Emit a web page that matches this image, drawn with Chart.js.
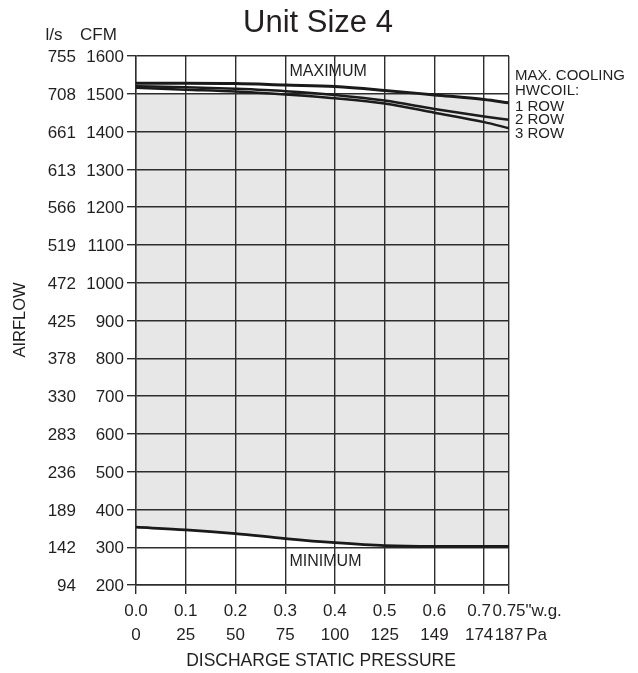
<!DOCTYPE html>
<html>
<head>
<meta charset="utf-8">
<script src="https://cdn.jsdelivr.net/npm/chart.js@4"></script>
<style>
  html, body { margin: 0; padding: 0; background: #ffffff; }
  #wrap { width: 638px; height: 673px; position: relative; }
</style>
</head>
<body>
<div id="wrap"><canvas id="c" width="638" height="673"></canvas></div>
<script>
// ---- data ----
const PRESSURE_IN = [0, 0.1, 0.2, 0.3, 0.4, 0.5, 0.6, 0.7, 0.75];
const MAX_COOLING_1ROW = [1528, 1528, 1527, 1523, 1519, 1509, 1497, 1485, 1476];
const HW_2ROW = [1520, 1517, 1513, 1507, 1497, 1482, 1460, 1440, 1431];
const HW_3ROW = [1516, 1511, 1506, 1498, 1488, 1474, 1450, 1425, 1409];
const MINIMUM = [353, 346, 336, 323, 312, 304, 302, 302, 302];
const SHADE_TOP = [1500, 1500, 1500, 1500, 1500, 1500, 1497, 1485, 1476];

const X_TICKS_IN = [0, 0.1, 0.2, 0.3, 0.4, 0.5, 0.6, 0.7, 0.75];
const X_LABELS_IN = ['0.0', '0.1', '0.2', '0.3', '0.4', '0.5', '0.6', '0.7', '0.75'];
const X_LABELS_PA = ['0', '25', '50', '75', '100', '125', '149', '174', '187'];
const Y_TICKS_CFM = [1600, 1500, 1400, 1300, 1200, 1100, 1000, 900, 800, 700, 600, 500, 400, 300, 200];
const Y_LABELS_LS = ['755', '708', '661', '613', '566', '519', '472', '425', '378', '330', '283', '236', '189', '142', '94'];
const RIGHT_LABELS = ['MAX. COOLING', 'HWCOIL:', '1 ROW', '2 ROW', '3 ROW'];

const FONT = "'Liberation Sans', Arial, Helvetica, sans-serif";
const INK = '#231f20';
const GRID = '#2e2e2e';

const pts = (ys) => PRESSURE_IN.map((x, i) => ({ x: x, y: ys[i] }));

const textPlugin = {
  id: 'texts',
  afterDraw(chart) {
    const ctx = chart.ctx;
    const xs = chart.scales.x, ys = chart.scales.y;
    ctx.save();
    ctx.fillStyle = INK;
    // title
    ctx.font = '31px ' + FONT;
    ctx.textAlign = 'center';
    ctx.textBaseline = 'alphabetic';
    ctx.fillText('Unit Size 4', 318, 31.5);
    // column headers
    ctx.font = '17px ' + FONT;
    ctx.textAlign = 'left';
    ctx.fillText('l/s', 45.5, 40);
    ctx.fillText('CFM', 80, 40);
    // y labels (two columns)
    ctx.textAlign = 'right';
    ctx.textBaseline = 'middle';
    Y_TICKS_CFM.forEach((v, i) => {
      const y = ys.getPixelForValue(v) + 1.5;
      ctx.fillText(Y_LABELS_LS[i], 76, y);
      ctx.fillText(String(v), 124, y);
    });
    // x labels (two rows)
    ctx.textAlign = 'center';
    ctx.textBaseline = 'alphabetic';
    X_TICKS_IN.forEach((v, i) => {
      let x = xs.getPixelForValue(v);
      if (i === 7) x -= 5;
      ctx.fillText(X_LABELS_IN[i], x, 616);
      ctx.fillText(X_LABELS_PA[i], x, 639.5);
    });
    const xe = xs.getPixelForValue(X_TICKS_IN[X_TICKS_IN.length - 1]);
    ctx.textAlign = 'left';
    ctx.fillText('"w.g.', xe + ctx.measureText(X_LABELS_IN[8]).width / 2, 616);
    ctx.fillText('Pa', xe + ctx.measureText(X_LABELS_PA[8]).width / 2 + 3, 639.5);
    // axis titles
    ctx.font = '17.5px ' + FONT;
    ctx.textAlign = 'center';
    ctx.fillText('DISCHARGE STATIC PRESSURE', 321, 666);
    ctx.save();
    ctx.translate(25, 320);
    ctx.rotate(-Math.PI / 2);
    ctx.font = '16.5px ' + FONT;
    ctx.fillText('AIRFLOW', 0, 0);
    ctx.restore();
    // in-plot labels
    ctx.font = '16px ' + FONT;
    ctx.textAlign = 'left';
    ctx.fillText('MAXIMUM', 289.5, 76);
    ctx.fillText('MINIMUM', 289.5, 565.5);
    // right labels
    ctx.font = '15px ' + FONT;
    const base = [80, 95.3, 110.7, 124.3, 138.3];
    RIGHT_LABELS.forEach((t, i) => ctx.fillText(t, 515, base[i]));
    ctx.restore();
  }
};

new Chart(document.getElementById('c'), {
  type: 'line',
  data: {
    datasets: [
      { label: 'Minimum', data: pts(MINIMUM), borderColor: '#1a1a1a', borderWidth: 2.8,
        pointRadius: 0, fill: false, cubicInterpolationMode: 'monotone' },
      { label: 'Shade', data: pts(SHADE_TOP), borderColor: 'rgba(0,0,0,0)', borderWidth: 0,
        pointRadius: 0, fill: { target: 0 }, backgroundColor: 'rgba(40,45,50,0.115)',
        cubicInterpolationMode: 'monotone' },
      { label: 'Max cooling / 1 row', data: pts(MAX_COOLING_1ROW), borderColor: '#1a1a1a', borderWidth: 3,
        pointRadius: 0, fill: false, cubicInterpolationMode: 'monotone' },
      { label: '2 row', data: pts(HW_2ROW), borderColor: '#1a1a1a', borderWidth: 2.5,
        pointRadius: 0, fill: false, cubicInterpolationMode: 'monotone' },
      { label: '3 row', data: pts(HW_3ROW), borderColor: '#1a1a1a', borderWidth: 2.5,
        pointRadius: 0, fill: false, cubicInterpolationMode: 'monotone' }
    ]
  },
  options: {
    responsive: false,
    animation: false,
    devicePixelRatio: 1,
    layout: { padding: { left: 127, right: 129, top: 56, bottom: 79 } },
    plugins: { legend: { display: false }, tooltip: { enabled: false }, title: { display: false } },
    scales: {
      x: {
        type: 'linear', min: 0, max: 0.75,
        afterBuildTicks: (s) => { s.ticks = X_TICKS_IN.map(v => ({ value: v })); },
        ticks: { display: false },
        grid: { color: GRID, lineWidth: 1.4, drawTicks: true, tickLength: 9, tickColor: GRID },
        border: { display: true, color: GRID, width: 1.4 }
      },
      y: {
        type: 'linear', min: 200, max: 1600,
        afterBuildTicks: (s) => { s.ticks = Y_TICKS_CFM.map(v => ({ value: v })); },
        ticks: { display: false },
        grid: { color: GRID, lineWidth: 1.4, drawTicks: true, tickLength: 9, tickColor: GRID },
        border: { display: true, color: GRID, width: 1.4 }
      }
    }
  },
  plugins: [textPlugin]
});
</script>
</body>
</html>
